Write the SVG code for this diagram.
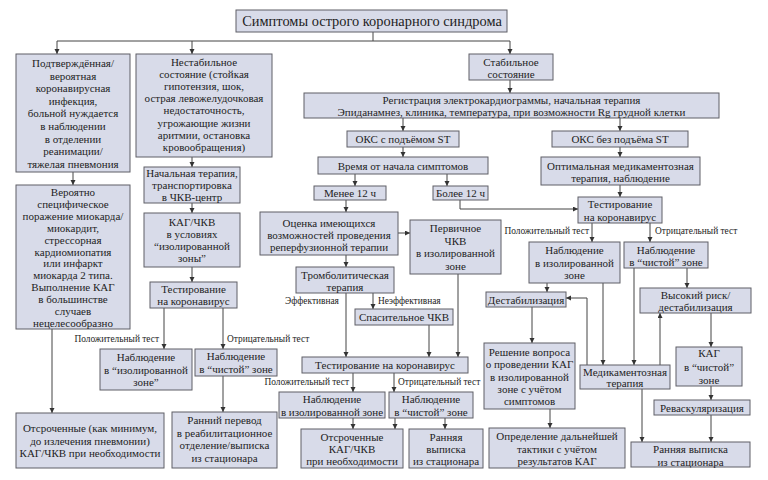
<svg xmlns="http://www.w3.org/2000/svg" width="768" height="480" viewBox="0 0 768 480">
<defs>
<marker id="ah" markerUnits="userSpaceOnUse" markerWidth="6" markerHeight="6" refX="5" refY="2.5" orient="auto">
<path d="M0,0 L5,2.5 L0,5 z" fill="#333"/>
</marker>
<style>
.b{fill:#d8dbe9;stroke:#5f5f66;stroke-width:1}
.t{font-family:"Liberation Serif","Times New Roman",serif;font-size:11px;fill:#1e1e24;text-anchor:middle}
.tt{font-family:"Liberation Serif","Times New Roman",serif;font-size:14.4px;fill:#1e1e24;text-anchor:middle}
.l{font-family:"Liberation Serif","Times New Roman",serif;font-size:9.4px;fill:#1e1e24}
.c{fill:none;stroke:#444;stroke-width:1}
.c line,.c polyline{marker-end:url(#ah)}
</style>
</defs>
<rect width="768" height="480" fill="#fff"/>

<g id="connectors" class="c">
<path d="M373,32 V41 M57,41 H510" fill="none"/>
<line x1="57" y1="41" x2="57" y2="54"/>
<line x1="192" y1="41" x2="192" y2="54"/>
<line x1="510" y1="41" x2="510" y2="54"/>
<line x1="192" y1="157" x2="192" y2="167"/>
<line x1="192" y1="203" x2="192" y2="213"/>
<line x1="192" y1="267" x2="192" y2="282"/>
<line x1="164" y1="308" x2="164" y2="349"/>
<line x1="223" y1="308" x2="223" y2="349"/>
<line x1="223" y1="376" x2="223" y2="412"/>
<line x1="73" y1="172" x2="73" y2="185"/>
<line x1="52" y1="329" x2="52" y2="413"/>
<line x1="510" y1="80" x2="510" y2="93"/>
<line x1="403" y1="118" x2="403" y2="131"/>
<line x1="620" y1="118" x2="620" y2="131"/>
<line x1="403" y1="147" x2="403" y2="157"/>
<line x1="620" y1="147" x2="620" y2="157"/>
<line x1="355" y1="174" x2="355" y2="186"/>
<line x1="447" y1="174" x2="447" y2="186"/>
<line x1="346" y1="200" x2="346" y2="212"/>
<polyline points="460,200 460,209 578,209"/>
<line x1="620" y1="185" x2="620" y2="197"/>
<line x1="398" y1="233" x2="410" y2="233"/>
<line x1="346" y1="255" x2="346" y2="267"/>
<line x1="373" y1="293" x2="373" y2="309"/>
<line x1="346" y1="293" x2="346" y2="357"/>
<line x1="429" y1="325" x2="429" y2="357"/>
<line x1="458" y1="274" x2="458" y2="357"/>
<line x1="353" y1="373" x2="353" y2="392"/>
<line x1="394" y1="373" x2="394" y2="392"/>
<line x1="353" y1="418" x2="353" y2="429"/>
<line x1="395" y1="418" x2="395" y2="429"/>
<line x1="445" y1="418" x2="445" y2="429"/>
<line x1="592" y1="223" x2="592" y2="242"/>
<line x1="650" y1="223" x2="650" y2="242"/>
<line x1="547" y1="283" x2="547" y2="292"/>
<line x1="603" y1="283" x2="603" y2="365"/>
<line x1="634" y1="268" x2="634" y2="365"/>
<line x1="687" y1="268" x2="687" y2="288"/>
<polyline points="587,365 587,298 566,298"/>
<line x1="660" y1="365" x2="660" y2="313"/>
<line x1="711" y1="313" x2="711" y2="347"/>
<line x1="532" y1="307" x2="532" y2="343"/>
<line x1="550" y1="409" x2="550" y2="428"/>
<line x1="711" y1="386" x2="711" y2="400"/>
<line x1="711" y1="415" x2="711" y2="442"/>
<line x1="642" y1="389" x2="642" y2="442"/>
</g>

<g id="labels">
<text class="l" x="159" y="342" text-anchor="end">Положительный тест</text>
<text class="l" x="227" y="342">Отрицательный тест</text>
<text class="l" x="285" y="304">Эффективная</text>
<text class="l" x="378" y="304">Неэффективная</text>
<text class="l" x="349" y="385" text-anchor="end">Положительный тест</text>
<text class="l" x="398" y="385">Отрицательный тест</text>
<text class="l" x="589" y="234" text-anchor="end">Положительный тест</text>
<text class="l" x="655" y="234">Отрицательный тест</text>
</g>

<g id="title"><rect class="b" x="236" y="10" width="271" height="22"/>
<text class="tt" x="372" y="26">Симптомы острого коронарного синдрома</text></g>

<g id="n_covid"><rect class="b" x="16" y="54" width="114" height="118"/>
<text class="t"><tspan x="73" y="67">Подтверждённая/</tspan><tspan x="73" y="79.6">вероятная</tspan><tspan x="73" y="92.2">коронавирусная</tspan><tspan x="73" y="104.8">инфекция,</tspan><tspan x="73" y="117.4">больной нуждается</tspan><tspan x="73" y="130">в наблюдении</tspan><tspan x="73" y="142.6">в отделении</tspan><tspan x="73" y="155.2">реанимации/</tspan><tspan x="73" y="167.8">тяжелая пневмония</tspan></text></g>

<g id="n_unstable"><rect class="b" x="136" y="54" width="136" height="103"/>
<text class="t"><tspan x="204" y="66">Нестабильное</tspan><tspan x="204" y="78.1">состояние (стойкая</tspan><tspan x="204" y="90.2">гипотензия, шок,</tspan><tspan x="204" y="102.3">острая левожелудочковая</tspan><tspan x="204" y="114.4">недостаточность,</tspan><tspan x="204" y="126.5">угрожающие жизни</tspan><tspan x="204" y="138.6">аритмии, остановка</tspan><tspan x="204" y="150.7">кровообращения)</tspan></text></g>

<g id="n_initial"><rect class="b" x="144" y="167" width="96" height="36"/>
<text class="t"><tspan x="192" y="177">Начальная терапия,</tspan><tspan x="192" y="189">транспортировка</tspan><tspan x="192" y="201">в ЧКВ-центр</tspan></text></g>

<g id="n_kag_pci"><rect class="b" x="144" y="213" width="96" height="54"/>
<text class="t"><tspan x="192" y="226">КАГ/ЧКВ</tspan><tspan x="192" y="238">в условиях</tspan><tspan x="192" y="250">“изолированной</tspan><tspan x="192" y="262">зоны”</tspan></text></g>

<g id="n_test_left"><rect class="b" x="150" y="282" width="87" height="26"/>
<text class="t"><tspan x="193.5" y="293">Тестирование</tspan><tspan x="193.5" y="305">на коронавирус</tspan></text></g>

<g id="n_iso_left"><rect class="b" x="100" y="349" width="92" height="41"/>
<text class="t"><tspan x="146" y="361">Наблюдение</tspan><tspan x="146" y="374">в “изолированной</tspan><tspan x="146" y="386">зоне”</tspan></text></g>

<g id="n_clean_left"><rect class="b" x="195" y="349" width="82" height="27"/>
<text class="t"><tspan x="236" y="360">Наблюдение</tspan><tspan x="236" y="373">в “чистой” зоне</tspan></text></g>

<g id="n_early_left"><rect class="b" x="172" y="412" width="105" height="56"/>
<text class="t"><tspan x="224.5" y="424">Ранний перевод</tspan><tspan x="224.5" y="436.5">в реабилитационное</tspan><tspan x="224.5" y="449">отделение/выписка</tspan><tspan x="224.5" y="461.5">из стационара</tspan></text></g>

<g id="n_prob"><rect class="b" x="16" y="185" width="114" height="144"/>
<text class="t"><tspan x="73" y="196">Вероятно</tspan><tspan x="73" y="207.9">специфическое</tspan><tspan x="73" y="219.8">поражение миокарда/</tspan><tspan x="73" y="231.7">миокардит,</tspan><tspan x="73" y="243.6">стрессорная</tspan><tspan x="73" y="255.5">кардиомиопатия</tspan><tspan x="73" y="267.4">или инфаркт</tspan><tspan x="73" y="279.3">миокарда 2 типа.</tspan><tspan x="73" y="291.2">Выполнение КАГ</tspan><tspan x="73" y="303.1">в большинстве</tspan><tspan x="73" y="315">случаев</tspan><tspan x="73" y="326.9">нецелесообразно</tspan></text></g>

<g id="n_delayed_left"><rect class="b" x="16" y="413" width="148" height="55"/>
<text class="t"><tspan x="90" y="432">Отсроченные (как минимум,</tspan><tspan x="90" y="444.5">до излечения пневмонии)</tspan><tspan x="90" y="457">КАГ/ЧКВ при необходимости</tspan></text></g>

<g id="n_stable"><rect class="b" x="469" y="54" width="84" height="26"/>
<text class="t"><tspan x="511" y="65.5">Стабильное</tspan><tspan x="511" y="77.5">состояние</tspan></text></g>

<g id="n_ecg"><rect class="b" x="304" y="93" width="415" height="25"/>
<text class="t"><tspan x="511.5" y="104">Регистрация электрокардиограммы, начальная терапия</tspan><tspan x="511.5" y="116">Эпиданамнез, клиника, температура, при возможности Rg грудной клетки</tspan></text></g>

<g id="n_stemi"><rect class="b" x="347" y="131" width="112" height="16"/>
<text class="t" x="403" y="143">ОКС с подъёмом ST</text></g>

<g id="n_nstemi"><rect class="b" x="552" y="131" width="136" height="16"/>
<text class="t" x="620" y="143">ОКС без подъёма ST</text></g>

<g id="n_time"><rect class="b" x="318" y="157" width="170" height="17"/>
<text class="t" x="403" y="169.5">Время от начала симптомов</text></g>

<g id="n_optimal"><rect class="b" x="541" y="157" width="159" height="28"/>
<text class="t"><tspan x="620.5" y="170">Оптимальная медикаментозная</tspan><tspan x="620.5" y="182">терапия, наблюдение</tspan></text></g>

<g id="n_lt12"><rect class="b" x="314" y="186" width="72" height="14"/>
<text class="t" x="350" y="197">Менее 12 ч</text></g>

<g id="n_gt12"><rect class="b" x="433" y="186" width="55" height="14"/>
<text class="t" x="460.5" y="197">Более 12 ч</text></g>

<g id="n_assess"><rect class="b" x="260" y="212" width="138" height="43"/>
<text class="t"><tspan x="329" y="227">Оценка имеющихся</tspan><tspan x="329" y="239">возможностей проведения</tspan><tspan x="329" y="251">реперфузионной терапии</tspan></text></g>

<g id="n_primary"><rect class="b" x="410" y="220" width="91" height="54"/>
<text class="t"><tspan x="455.5" y="232">Первичное</tspan><tspan x="455.5" y="244.5">ЧКВ</tspan><tspan x="455.5" y="257">в изолированной</tspan><tspan x="455.5" y="269.5">зоне</tspan></text></g>

<g id="n_thrombo"><rect class="b" x="296" y="267" width="98" height="26"/>
<text class="t"><tspan x="345" y="279">Тромболитическая</tspan><tspan x="345" y="291">терапия</tspan></text></g>

<g id="n_rescue"><rect class="b" x="355" y="309" width="98" height="16"/>
<text class="t" x="404" y="321">Спасительное ЧКВ</text></g>

<g id="n_test_mid"><rect class="b" x="302" y="357" width="166" height="16"/>
<text class="t" x="385" y="369">Тестирование на коронавирус</text></g>

<g id="n_iso_mid"><rect class="b" x="279" y="392" width="106" height="26"/>
<text class="t"><tspan x="332" y="403">Наблюдение</tspan><tspan x="332" y="415.5">в изолированной зоне</tspan></text></g>

<g id="n_clean_mid"><rect class="b" x="389" y="392" width="84" height="26"/>
<text class="t"><tspan x="431" y="403">Наблюдение</tspan><tspan x="431" y="415.5">в “чистой” зоне</tspan></text></g>

<g id="n_delayed_mid"><rect class="b" x="301" y="429" width="102" height="39"/>
<text class="t"><tspan x="352" y="441">Отсроченные</tspan><tspan x="352" y="453">КАГ/ЧКВ</tspan><tspan x="352" y="465">при необходимости</tspan></text></g>

<g id="n_early_mid"><rect class="b" x="409" y="429" width="74" height="39"/>
<text class="t"><tspan x="446" y="441">Ранняя</tspan><tspan x="446" y="453">выписка</tspan><tspan x="446" y="465">из стационара</tspan></text></g>

<g id="n_test_right"><rect class="b" x="578" y="197" width="84" height="26"/>
<text class="t"><tspan x="620" y="208">Тестирование</tspan><tspan x="620" y="220.5">на коронавирус</tspan></text></g>

<g id="n_iso_right"><rect class="b" x="529" y="242" width="91" height="41"/>
<text class="t"><tspan x="574.5" y="254">Наблюдение</tspan><tspan x="574.5" y="266.5">в изолированной</tspan><tspan x="574.5" y="279">зоне</tspan></text></g>

<g id="n_clean_right"><rect class="b" x="624" y="242" width="84" height="26"/>
<text class="t"><tspan x="666" y="254">Наблюдение</tspan><tspan x="666" y="266">в “чистой” зоне</tspan></text></g>

<g id="n_destab"><rect class="b" x="486" y="292" width="80" height="15"/>
<text class="t" x="526" y="303.5">Дестабилизация</text></g>

<g id="n_highrisk"><rect class="b" x="640" y="288" width="111" height="25"/>
<text class="t"><tspan x="695.5" y="299">Высокий риск/</tspan><tspan x="695.5" y="311">дестабилизация</tspan></text></g>

<g id="n_decision"><rect class="b" x="484" y="343" width="91" height="66"/>
<text class="t"><tspan x="529.5" y="356">Решение вопроса</tspan><tspan x="529.5" y="368.3">о проведении КАГ</tspan><tspan x="529.5" y="380.6">в изолированной</tspan><tspan x="529.5" y="392.9">зоне с учётом</tspan><tspan x="529.5" y="405.2">симптомов</tspan></text></g>

<g id="n_med"><rect class="b" x="580" y="365" width="90" height="24"/>
<text class="t"><tspan x="625" y="376">Медикаментозная</tspan><tspan x="625" y="387">терапия</tspan></text></g>

<g id="n_kag_clean"><rect class="b" x="676" y="347" width="66" height="39"/>
<text class="t"><tspan x="709" y="357">КАГ</tspan><tspan x="709" y="370.5">в “чистой”</tspan><tspan x="709" y="384">зоне</tspan></text></g>

<g id="n_revasc"><rect class="b" x="654" y="400" width="96" height="15"/>
<text class="t" x="702" y="411.5">Реваскуляризация</text></g>

<g id="n_early_right"><rect class="b" x="631" y="442" width="119" height="25"/>
<text class="t"><tspan x="690.5" y="453">Ранняя выписка</tspan><tspan x="690.5" y="465.5">из стационара</tspan></text></g>

<g id="n_determine"><rect class="b" x="489" y="428" width="136" height="40"/>
<text class="t"><tspan x="557" y="440">Определение дальнейшей</tspan><tspan x="557" y="452.5">тактики с учётом</tspan><tspan x="557" y="465">результатов КАГ</tspan></text></g>
</svg>
